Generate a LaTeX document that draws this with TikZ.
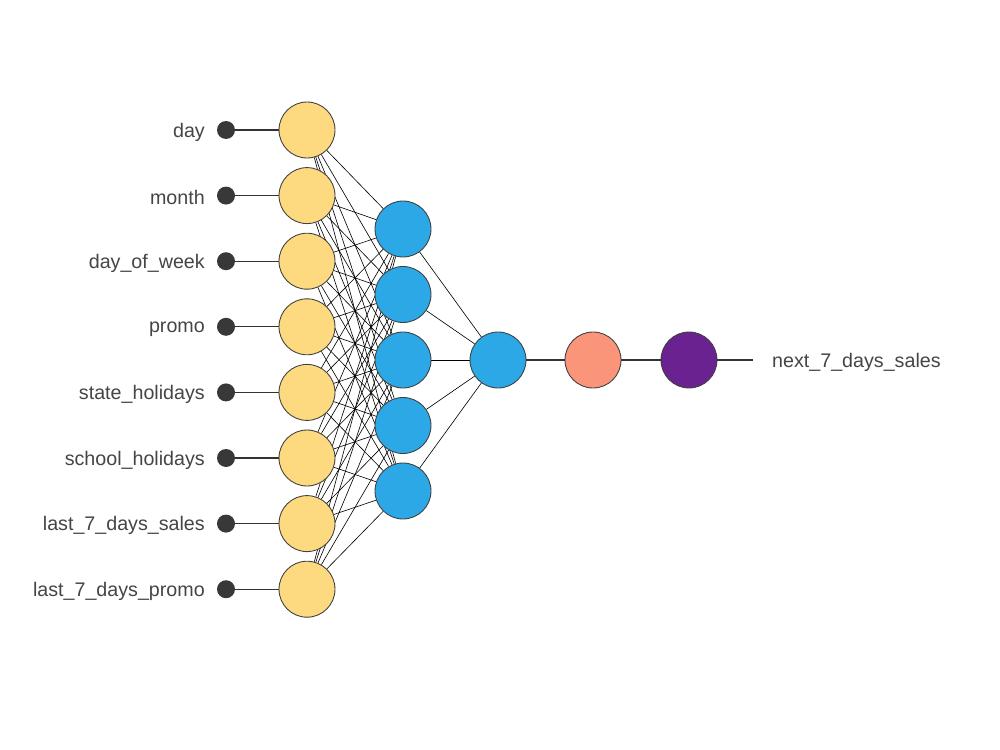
\documentclass[tikz,border=0pt]{standalone}
\usepackage{fontspec}
\setmainfont{Liberation Sans}
\usepackage{xcolor}
\usetikzlibrary{positioning,backgrounds}
\definecolor{inyellow}{HTML}{FDD980}
\definecolor{hidblue}{HTML}{2CA8E6}
\definecolor{outsalmon}{HTML}{FB9579}
\definecolor{outpurple}{HTML}{6A2290}
\definecolor{labelgray}{HTML}{454545}
\definecolor{dotgray}{HTML}{383838}

\begin{document}
\begin{tikzpicture}[x=0.02cm,y=-0.02cm,
    neuron/.style={circle,draw=black!75,line width=0.5pt,minimum size=1.12cm,inner sep=0pt},
    indot/.style={circle,fill=dotgray,minimum size=0.36cm,inner sep=0pt},
    feat/.style={anchor=east,text=labelgray,font=\fontsize{11.2}{13}\selectfont},
    wire/.style={draw=black,line width=0.35pt},
    stem/.style={draw=black!80,line width=0.6pt}]
    \useasboundingbox (0,0) rectangle (1000,750);

    % input layer
    \foreach \lab [count=\i] in {day,month,day\_of\_week,promo,state\_holidays,school\_holidays,last\_7\_days\_sales,last\_7\_days\_promo} {
        \node[neuron,fill=inyellow] (in\i) at (307,{130+65.6*(\i-1)}) {};
        \node[indot] (dot\i) at (226,{130+65.6*(\i-1)}) {};
        \node[feat] (lab\i) at (211,{132+65.6*(\i-1)}) {\lab};
        \draw[stem] (dot\i) -- (in\i);
    }

    % hidden layers
    \foreach \j in {1,...,5}
        \node[neuron,fill=hidblue] (hid\j) at (403,{229+65.5*(\j-1)}) {};
    \node[neuron,fill=hidblue] (mid) at (498,360) {};
    \node[neuron,fill=outsalmon] (act) at (593,360) {};
    \node[neuron,fill=outpurple] (out) at (689,360) {};

    \begin{pgfonlayer}{background}
        \foreach \i in {1,...,8}
            \foreach \j in {1,...,5}
                \draw[wire] (in\i) -- (hid\j);
        \foreach \j in {1,...,5}
            \draw[wire] (hid\j) -- (mid);
    \end{pgfonlayer}
    \draw[stem] (mid) -- (act);
    \draw[stem] (act) -- (out);

    % output
    \coordinate (tail) at (753,360);
    \draw[stem] (out) -- (tail);
    \node[anchor=west,text=labelgray,font=\fontsize{11.2}{13}\selectfont] (target) at (766,362) {next\_7\_days\_sales};
\end{tikzpicture}
\end{document}
